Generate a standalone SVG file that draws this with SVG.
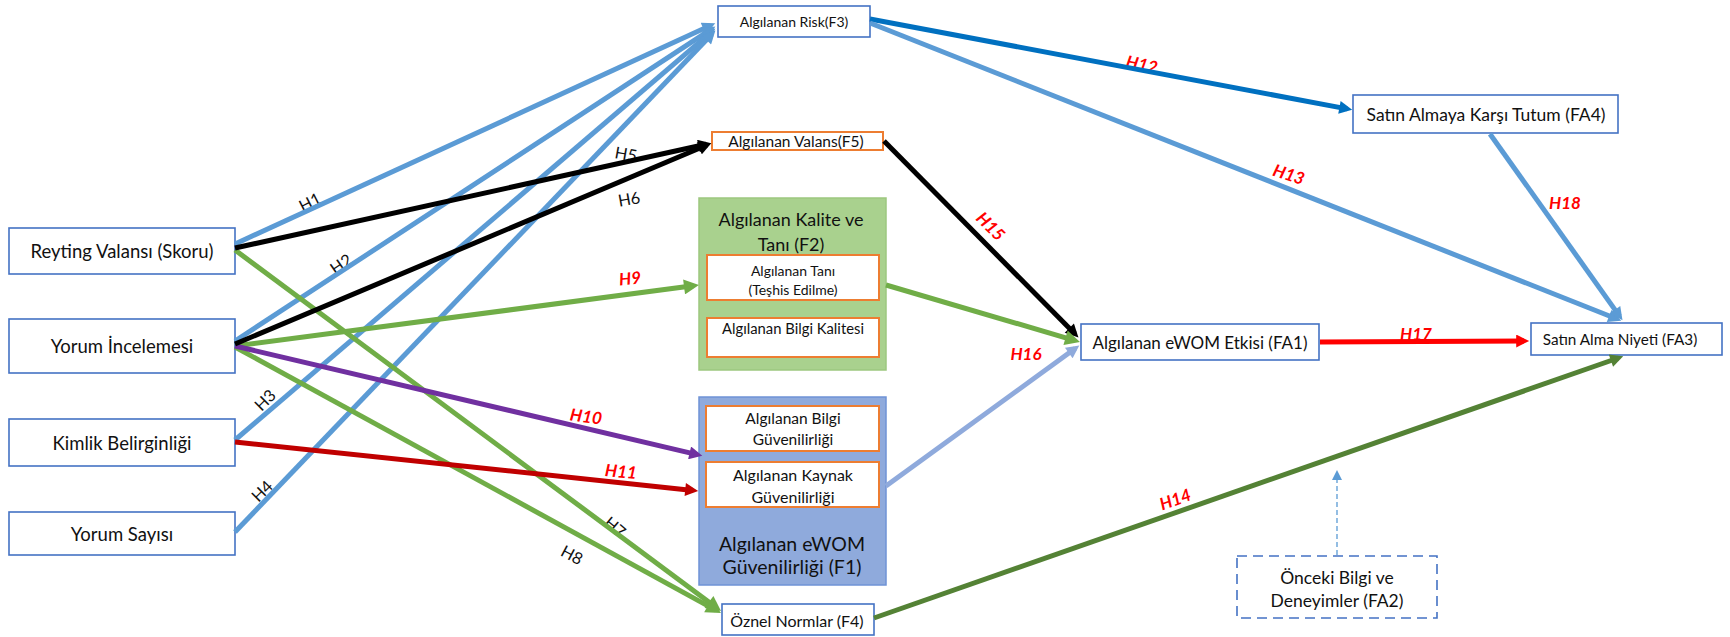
<svg xmlns="http://www.w3.org/2000/svg" width="1730" height="637" viewBox="0 0 1730 637">
<style>
text{font-family:Lato,"Liberation Sans",sans-serif;fill:#111;text-anchor:middle;dominant-baseline:central}
.n{fill:#fff;stroke:#4472C4;stroke-width:1.6}
.o{fill:#fff;stroke:#ED7D31;stroke-width:2}
.c{fill:none;stroke-width:5}
.lb{font-size:16.5px;fill:#111}
.lr{font-size:17px;fill:#FF0000;font-weight:bold;font-style:italic}
</style>
<defs>
<marker id="aB" viewBox="0 0 10 10" refX="6" refY="5" markerWidth="3" markerHeight="2.6" markerUnits="strokeWidth" orient="auto"><path d="M0,0L10,5L0,10z" fill="#5B9BD5"/></marker>
<marker id="aD" viewBox="0 0 10 10" refX="6" refY="5" markerWidth="3" markerHeight="2.6" markerUnits="strokeWidth" orient="auto"><path d="M0,0L10,5L0,10z" fill="#0070C0"/></marker>
<marker id="aK" viewBox="0 0 10 10" refX="6" refY="5" markerWidth="3" markerHeight="2.6" markerUnits="strokeWidth" orient="auto"><path d="M0,0L10,5L0,10z" fill="#000"/></marker>
<marker id="aG" viewBox="0 0 10 10" refX="6" refY="5" markerWidth="3.4" markerHeight="3" markerUnits="strokeWidth" orient="auto"><path d="M0,0L10,5L0,10z" fill="#70AD47"/></marker>
<marker id="aDG" viewBox="0 0 10 10" refX="6" refY="5" markerWidth="3" markerHeight="2.6" markerUnits="strokeWidth" orient="auto"><path d="M0,0L10,5L0,10z" fill="#548235"/></marker>
<marker id="aP" viewBox="0 0 10 10" refX="6" refY="5" markerWidth="3" markerHeight="2.6" markerUnits="strokeWidth" orient="auto"><path d="M0,0L10,5L0,10z" fill="#7030A0"/></marker>
<marker id="aR" viewBox="0 0 10 10" refX="6" refY="5" markerWidth="3" markerHeight="2.6" markerUnits="strokeWidth" orient="auto"><path d="M0,0L10,5L0,10z" fill="#C00000"/></marker>
<marker id="aRR" viewBox="0 0 10 10" refX="6" refY="5" markerWidth="3" markerHeight="2.6" markerUnits="strokeWidth" orient="auto"><path d="M0,0L10,5L0,10z" fill="#FF0000"/></marker>
<marker id="aL" viewBox="0 0 10 10" refX="6" refY="5" markerWidth="3" markerHeight="2.6" markerUnits="strokeWidth" orient="auto"><path d="M0,0L10,5L0,10z" fill="#8FAADC"/></marker>
<marker id="aT" viewBox="0 0 10 10" refX="8" refY="5" markerWidth="10" markerHeight="10" markerUnits="userSpaceOnUse" orient="auto"><path d="M0,0L10,5L0,10z" fill="#5B9BD5"/></marker>
</defs>

<g id="nodes">
<g id="n-reyting"><rect class="n" x="9" y="228" width="226" height="46"/><text x="122" y="251" font-size="18.5">Reyting Valansı (Skoru)</text></g>
<g id="n-yorum-inc"><rect class="n" x="9" y="319" width="226" height="54"/><text x="122" y="346" font-size="18.5">Yorum İncelemesi</text></g>
<g id="n-kimlik"><rect class="n" x="9" y="419" width="226" height="47"/><text x="122" y="443" font-size="18.5">Kimlik Belirginliği</text></g>
<g id="n-yorum-say"><rect class="n" x="9" y="512" width="226" height="43"/><text x="122" y="534" font-size="18.5">Yorum Sayısı</text></g>

<g id="n-risk"><rect class="n" x="718" y="6" width="152" height="31"/><text x="794" y="21" font-size="14">Algılanan Risk(F3)</text></g>
<g id="n-valans"><rect class="o" x="712" y="132" width="171" height="18"/><text x="796" y="141" font-size="15.5">Algılanan Valans(F5)</text></g>

<g id="n-f2"><rect x="699" y="198" width="187" height="172" fill="#A9D18E" stroke="#9DC77F" stroke-width="1.5"/>
<text x="791" y="219" font-size="18">Algılanan Kalite ve</text><text x="791" y="244" font-size="18">Tanı (F2)</text>
<rect class="o" x="707" y="255" width="172" height="45"/><text x="793" y="270" font-size="14">Algılanan Tanı</text><text x="793" y="289" font-size="14">(Teşhis Edilme)</text>
<rect class="o" x="707" y="318" width="172" height="39"/><text x="793" y="328" font-size="14.8">Algılanan Bilgi Kalitesi</text></g>

<g id="n-f1"><rect x="699" y="397" width="187" height="188" fill="#8FAADC" stroke="#6F93D6" stroke-width="1.5"/>
<rect class="o" x="706" y="406" width="173" height="45"/><text x="793" y="418" font-size="15.5">Algılanan Bilgi</text><text x="793" y="439" font-size="15.5">Güvenilirliği</text>
<rect class="o" x="706" y="462" width="173" height="45"/><text x="793" y="474" font-size="16">Algılanan Kaynak</text><text x="793" y="496" font-size="16">Güvenilirliği</text>
<text x="792" y="543" font-size="19.5">Algılanan eWOM</text><text x="792" y="566" font-size="19.5">Güvenilirliği (F1)</text></g>

<g id="n-oznel"><rect class="n" x="722" y="604" width="152" height="31"/><text x="797" y="620" font-size="16">Öznel Normlar (F4)</text></g>
<g id="n-fa1"><rect class="n" x="1081" y="324" width="238" height="36"/><text x="1200" y="342" font-size="17">Algılanan eWOM Etkisi (FA1)</text></g>
<g id="n-fa4"><rect class="n" x="1353" y="95" width="265" height="38"/><text x="1486" y="114" font-size="17.5">Satın Almaya Karşı Tutum (FA4)</text></g>
<g id="n-fa3"><rect class="n" x="1531" y="323" width="191" height="32"/><text x="1620" y="339" font-size="15.3">Satın Alma Niyeti (FA3)</text></g>
<g id="n-fa2"><rect x="1237" y="556" width="200" height="62" fill="#fff" stroke="#4472C4" stroke-width="1.6" stroke-dasharray="10,6"/><text x="1337" y="577" font-size="17.5">Önceki Bilgi ve</text><text x="1337" y="600" font-size="17.5">Deneyimler (FA2)</text></g>
</g>

<g id="connectors">
<g id="labels">
<text class="lb" transform="translate(310,202) rotate(-27)">H1</text>
<text class="lb" transform="translate(341,264) rotate(-35)">H2</text>
<text class="lb" transform="translate(265,400) rotate(-45)">H3</text>
<text class="lb" transform="translate(262,491) rotate(-45)">H4</text>
<text class="lb" transform="translate(626,154) rotate(10)">H5</text>
<text class="lb" transform="translate(629,199) rotate(-10)">H6</text>
<text class="lb" transform="translate(615,527) rotate(40)">H7</text>
<text class="lb" transform="translate(572,555) rotate(28)">H8</text>
<text class="lr" transform="translate(630,278) rotate(-5)">H9</text>
<text class="lr" transform="translate(586,416) rotate(8)">H10</text>
<text class="lr" transform="translate(621,471) rotate(5)">H11</text>
<text class="lr" transform="translate(1142,64) rotate(12)">H12</text>
<text class="lr" transform="translate(1289,174) rotate(18)">H13</text>
<text class="lr" transform="translate(1175,499) rotate(-20)">H14</text>
<text class="lr" transform="translate(991,226) rotate(45)">H15</text>
<text class="lr" x="1026" y="353">H16</text>
<text class="lr" x="1416" y="333">H17</text>
<text class="lr" x="1565" y="202">H18</text>
</g>
<path id="c-h1" class="c" stroke="#5B9BD5" marker-end="url(#aB)" d="M235,244L710.5,25.5"/>
<path id="c-h2" class="c" stroke="#5B9BD5" marker-end="url(#aB)" d="M235,341L711,29.3"/>
<path id="c-h3" class="c" stroke="#5B9BD5" marker-end="url(#aB)" d="M235,440L711.4,31.9"/>
<path id="c-h4" class="c" stroke="#5B9BD5" marker-end="url(#aB)" d="M235,532L711.8,34.3"/>
<path id="c-h7" class="c" stroke="#70AD47" stroke-width="4.5" marker-end="url(#aG)" d="M235,250L716.2,607.4"/>
<path id="c-h8" class="c" stroke="#70AD47" stroke-width="4.5" marker-end="url(#aG)" d="M235,347L715.7,610.1"/>
<path id="c-h9" class="c" stroke="#70AD47" stroke-width="4.5" marker-end="url(#aG)" d="M235,346L693,285.8"/>
<path id="c-h10" class="c" stroke="#7030A0" marker-end="url(#aP)" d="M235,346L697.2,454.6"/>
<path id="c-h11" class="c" stroke="#C00000" marker-end="url(#aR)" d="M235,442L693,490.4"/>
<path id="c-h5" class="c" stroke="#000" marker-end="url(#aK)" d="M235,248L706.1,144.3"/>
<path id="c-h6" class="c" stroke="#000" marker-end="url(#aK)" d="M235,344L706.5,145.3"/>
<path id="c-h12" class="c" stroke="#0070C0" marker-end="url(#aD)" d="M870,19L1347.1,108.9"/>
<path id="c-h13" class="c" stroke="#5B9BD5" marker-end="url(#aB)" d="M870,23L1616.4,318.8"/>
<path id="c-h18" class="c" stroke="#5B9BD5" marker-end="url(#aB)" d="M1490,134L1619.5,316.1"/>
<path id="c-h15" class="c" stroke="#000" marker-end="url(#aK)" d="M884,141L1074.8,333.7"/>
<path id="c-f2" class="c" stroke="#70AD47" stroke-width="4.5" marker-end="url(#aG)" d="M886,285L1074.2,340.3"/>
<path id="c-h16" class="c" stroke="#8FAADC" marker-end="url(#aL)" d="M886,486L1075.1,348.5"/>
<path id="c-h17" class="c" stroke="#FF0000" marker-end="url(#aRR)" d="M1320,342L1524,341"/>
<path id="c-h14" class="c" stroke="#548235" marker-end="url(#aDG)" d="M874,618L1618.3,358"/>
<path id="c-fa2" fill="none" stroke="#5B9BD5" stroke-width="1.3" stroke-dasharray="5,3" marker-end="url(#aT)" d="M1337,555L1337,472"/>
</g>
</svg>
